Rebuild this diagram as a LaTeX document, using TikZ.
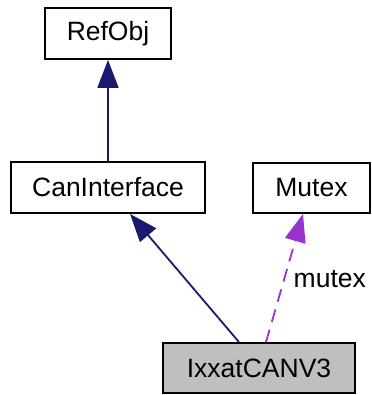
\documentclass[tikz,border=0pt]{standalone}
\usepackage{fontspec}
\setmainfont{Liberation Sans}
\usetikzlibrary{arrows.meta}
\definecolor{edgeblue}{HTML}{191970}
\definecolor{edgepurple}{HTML}{9A32CD}
\definecolor{nodegrey}{HTML}{BFBFBF}
\begin{document}
\begin{tikzpicture}[x=1pt,y=-1pt,
  cls/.style={draw=black, line width=1.8pt, fill=white, inner sep=0pt,
    font=\fontsize{26.5}{29}\selectfont},
  inh/.style={draw=edgeblue, line width=1.8pt,
    -{Triangle[length=28pt,width=21pt]}, edgeblue},
  use/.style={draw=edgepurple, line width=1.8pt, dash pattern=on 13pt off 8pt,
    -{Triangle[length=28pt,width=21pt]}, edgepurple}]
\useasboundingbox (0,0) rectangle (371,395);
\node[cls, minimum width=126pt, minimum height=51pt] (refobj) at (108,33.5) {RefObj};
\node[cls, minimum width=194pt, minimum height=51pt] (can) at (108,187.5) {CanInterface};
\node[cls, minimum width=117pt, minimum height=50pt] (mutex) at (311.5,188) {Mutex};
\node[cls, fill=nodegrey, minimum width=192pt, minimum height=50pt] (ixxat) at (259,368) {IxxatCANV3};
\draw[inh] (can.north -| refobj.south) -- (refobj.south);
\draw[inh] ([xshift=-20pt]ixxat.north) -- ([xshift=22pt]can.south);
\draw[use] ([xshift=7pt]ixxat.north) -- ([xshift=-8.5pt]mutex.south)
  node[pos=0.5, right=5pt, yshift=-1pt, text=black, font=\fontsize{26.5}{29}\selectfont] (lbl) {mutex};
\end{tikzpicture}
\end{document}
